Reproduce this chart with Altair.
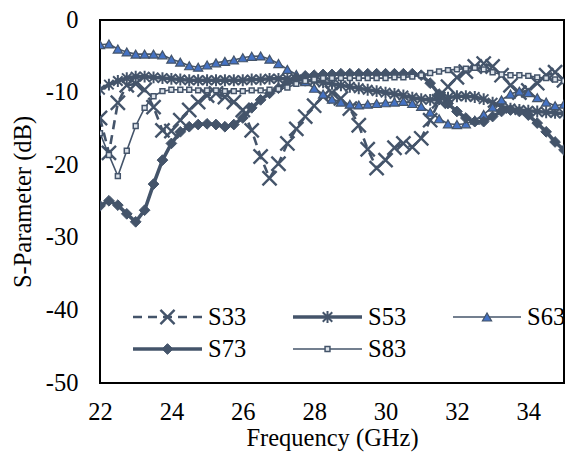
import altair as alt
import pandas as pd

# Frequency sweep (GHz), one sample every 0.25 GHz
freq = [22 + 0.25 * i for i in range(53)]

s33 = [-13.5, -18.3, -11.4, -9.0, -8.8, -9.6, -12.0, -15.2, -15.3, -13.8,
       -12.4, -11.3, -10.4, -10.1, -10.6, -11.3, -12.4, -15.2, -18.8, -21.8,
       -19.8, -17.0, -15.0, -13.3, -11.8, -10.5, -10.0, -10.8, -12.2, -14.5,
       -17.8, -20.4, -19.3, -17.6, -17.0, -17.5, -16.3, -13.8, -11.2, -9.2,
       -7.9, -7.1, -6.4, -6.0, -6.4, -7.6, -9.0, -10.0, -9.7, -8.7,
       -7.6, -7.2, -8.3]

s53 = [-9.6, -8.9, -8.4, -8.0, -7.8, -7.8, -7.9, -8.0, -8.1, -8.2,
       -8.3, -8.3, -8.3, -8.3, -8.3, -8.3, -8.3, -8.2, -8.2, -8.1,
       -8.1, -8.1, -8.2, -8.3, -8.4, -8.6, -8.8, -9.0, -9.2, -9.4,
       -9.6, -9.8, -10.0, -10.2, -10.4, -10.7, -10.9, -11.0, -10.9, -10.7,
       -10.5, -10.5, -10.6, -10.9, -11.4, -11.9, -12.2, -12.4, -12.5, -12.6,
       -12.7, -12.8, -12.9]

s63 = [-3.4, -3.3, -4.0, -4.4, -4.7, -4.7, -4.7, -4.8, -5.4, -5.8,
       -6.3, -6.5, -6.2, -5.9, -5.7, -5.5, -5.2, -5.0, -4.95, -5.4,
       -6.0, -6.8, -7.5, -8.5, -9.4, -10.2, -10.9, -11.3, -11.6, -11.7,
       -11.6, -11.5, -11.4, -11.3, -11.2, -11.5, -11.9, -12.7, -13.6, -14.3,
       -14.4, -14.3, -13.8, -13.0, -12.0, -11.0, -10.2, -9.8, -10.0, -10.7,
       -11.3, -11.8, -11.6]

s73 = [-25.6, -24.9, -25.5, -26.7, -27.8, -26.2, -22.6, -19.3, -17.0, -15.4,
       -14.7, -14.4, -14.3, -14.4, -14.7, -14.4, -13.5, -12.1, -11.0, -10.1,
       -9.4, -8.6, -8.0, -7.7, -7.6, -7.5, -7.5, -7.4, -7.4, -7.4,
       -7.4, -7.4, -7.4, -7.4, -7.4, -7.4, -7.6, -8.7, -10.2, -11.5,
       -12.6, -13.5, -14.0, -14.0, -13.3, -12.6, -12.4, -12.6, -13.1, -14.2,
       -15.4, -16.8, -17.9]

s83 = [-15.6, -18.6, -21.5, -18.0, -14.6, -12.1, -10.5, -9.8, -9.6, -9.6,
       -9.6, -9.7, -9.7, -9.7, -9.8, -9.8, -9.8, -9.7, -9.7, -9.6,
       -9.5, -9.3, -8.8, -8.4, -8.2, -8.0, -8.0, -8.0, -8.0, -8.0,
       -8.0, -8.0, -8.0, -7.9, -7.9, -7.8, -7.6, -7.3, -7.1, -6.9,
       -6.8, -6.7, -6.6, -6.8, -7.2, -7.5, -7.6, -7.6, -7.7, -7.9,
       -8.0, -8.2, -8.4]

series_names = ["S33", "S53", "S63", "S73", "S83"]
series_values = [s33, s53, s63, s73, s83]

x_ticks = [22, 24, 26, 28, 30, 32, 34]
y_ticks = [0, -10, -20, -30, -40, -50]

INK = "#44546A"
BLUE = "#4472C4"
FONT = "Liberation Serif"
FS = 24.5

X_PATH = "M-1,-1L1,1M-1,1L1,-1"
STAR_PATH = "M-1,-1L1,1M-1,1L1,-1M0,-1.25L0,1.25"

# line and marker styling per series
styles = {
    "S33": dict(line=dict(strokeWidth=2.6, strokeDash=[9, 6]),
                point=dict(shape=X_PATH, size=200, filled=False, strokeWidth=2.4)),
    "S53": dict(line=dict(strokeWidth=3.6),
                point=dict(shape=STAR_PATH, size=90, filled=False, strokeWidth=2.0)),
    "S63": dict(line=dict(strokeWidth=1.6),
                point=dict(shape="triangle-up", size=85, filled=True, fill=BLUE,
                           strokeWidth=1.2)),
    "S73": dict(line=dict(strokeWidth=3.6),
                point=dict(shape="diamond", size=115, filled=True, fill=INK,
                           strokeWidth=1.0)),
    "S83": dict(line=dict(strokeWidth=1.6),
                point=dict(shape="square", size=24, filled=True, fill="#DDE3EA",
                           strokeWidth=1.5)),
}

x_scale = alt.Scale(domain=[22, 35], nice=False, zero=False)
y_scale = alt.Scale(domain=[-50, 0], nice=False, zero=False)

common_axis = dict(grid=False, domain=False, ticks=False, tickSize=0, labelFlush=False,
                   labelOverlap=False, labelExpr="'' + datum.value",
                   labelFont=FONT, labelFontSize=FS, labelColor="black",
                   titleFont=FONT, titleFontSize=FS, titleFontWeight="normal",
                   titleColor="black")
x_axis = alt.Axis(values=x_ticks, title="Frequency (GHz)", labelPadding=17,
                  titlePadding=3, **common_axis)
y_axis = alt.Axis(values=y_ticks, title="S-Parameter (dB)", labelPadding=22,
                  titlePadding=10, **common_axis)

layers = []
for name, vals in zip(series_names, series_values):
    df = pd.DataFrame({"freq": freq, "db": vals, "series": name})
    st = styles[name]
    enc = dict(
        x=alt.X("freq:Q", scale=x_scale, axis=x_axis),
        y=alt.Y("db:Q", scale=y_scale, axis=y_axis),
    )
    line = alt.Chart(df).mark_line(color=INK, clip=True, **st["line"]).encode(**enc)
    pts = alt.Chart(df).mark_point(stroke=INK, opacity=1, clip=True,
                                   **st["point"]).encode(**enc)
    layers += [line, pts]

# legend drawn inside the plot frame (pixel layout within the plot area)
legend_layout = {
    "S33": (33, 102, 297),
    "S53": (193, 262, 297),
    "S63": (353, 421, 297),
    "S73": (33, 102, 329),
    "S83": (193, 262, 329),
}
leg_src = pd.DataFrame({"k": [0]})
for name in series_names:
    x1, x2, yy = legend_layout[name]
    st = styles[name]
    layers.append(
        alt.Chart(leg_src).mark_rule(color=INK, **st["line"]).encode(
            x=alt.value(x1), x2=alt.value(x2), y=alt.value(yy))
    )
    layers.append(
        alt.Chart(leg_src).mark_point(stroke=INK, opacity=1, **st["point"]).encode(
            x=alt.value((x1 + x2) / 2), y=alt.value(yy))
    )
    layers.append(
        alt.Chart(leg_src).mark_text(text=name, font=FONT, fontSize=FS, color="black",
                                     align="left", baseline="middle").encode(
            x=alt.value(x2 + 6), y=alt.value(yy + 1))
    )

chart = alt.layer(*layers).properties(
    width=464, height=363,
    background="white",
    autosize=alt.AutoSizeParams(type="none"),
    padding={"left": 100, "top": 20, "right": 6, "bottom": 76},
).configure_view(stroke="black", strokeWidth=2)

chart.save("out.html", embed_options={"renderer": "svg", "actions": False})
